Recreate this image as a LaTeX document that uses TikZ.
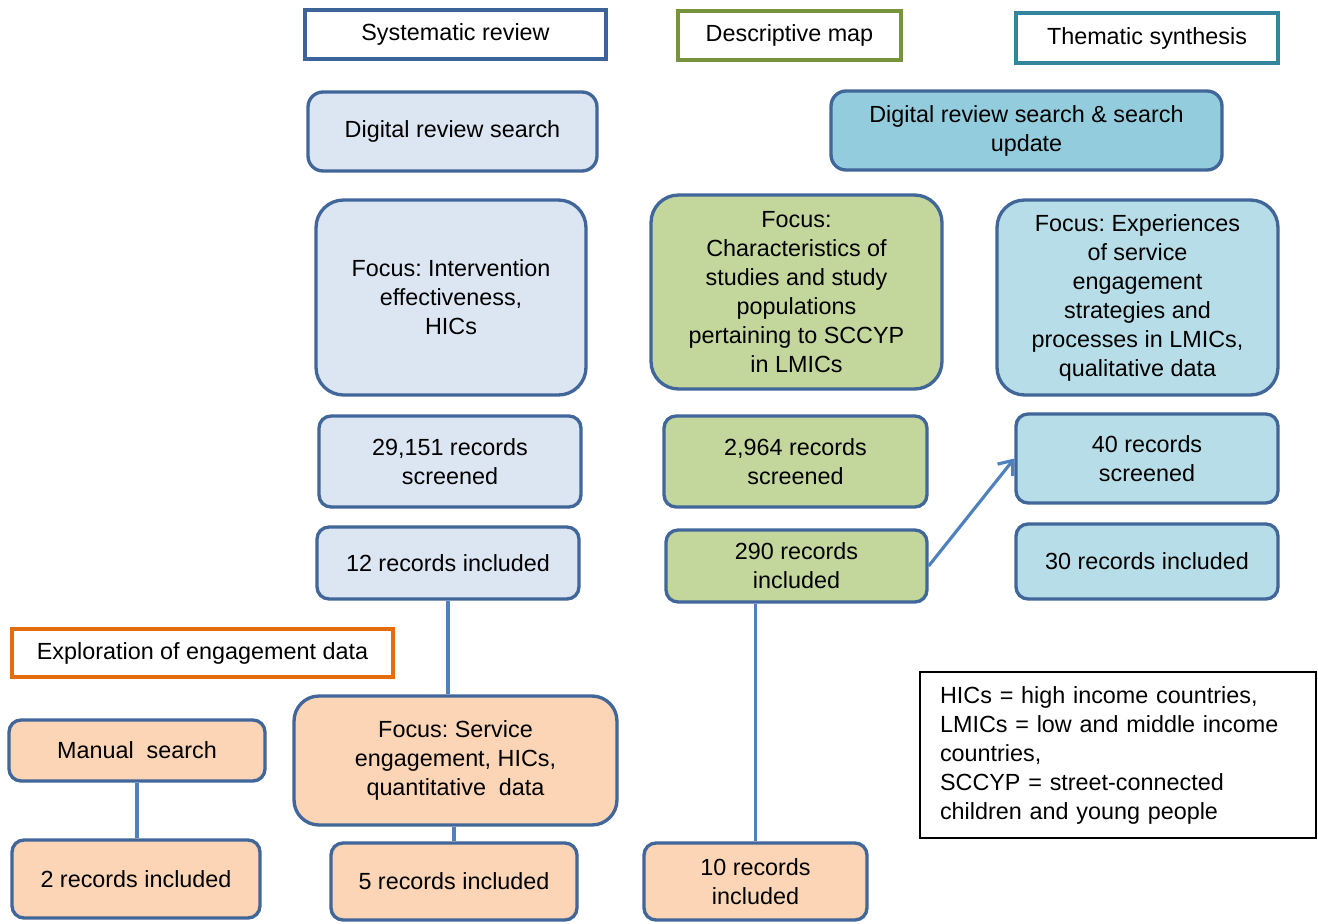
\documentclass[tikz,border=0pt]{standalone}
\usepackage{fontspec}
\setmainfont{Liberation Sans}
\usetikzlibrary{arrows.meta}
\definecolor{hdrblue}{HTML}{3C6499}
\definecolor{hdrgreen}{HTML}{77933C}
\definecolor{hdrteal}{HTML}{31859C}
\definecolor{hdrorange}{HTML}{E46C0A}
\definecolor{bord}{HTML}{41669A}
\definecolor{fblue}{HTML}{DCE6F2}
\definecolor{fgreen}{HTML}{C3D69B}
\definecolor{fteal}{HTML}{B7DEE8}
\definecolor{ftealdk}{HTML}{93CDDD}
\definecolor{forange}{HTML}{FBD5B5}
\definecolor{conn}{HTML}{4F81BD}
\begin{document}
\frenchspacing
\begin{tikzpicture}[x=0.02cm,y=-0.02cm,
  font=\fontsize{13.3pt}{16.5pt}\selectfont\frenchspacing,
  hdr/.style={draw=#1, line width=2pt, fill=white, inner sep=0pt, align=center},
  rbox/.style={draw=bord, line width=1.9pt, fill=#1, rounded corners=0.24cm, inner sep=0pt, align=center},
  bigbox/.style={rbox=#1, rounded corners=0.55cm},
  link/.style={draw=conn, line width=1.8pt},
  legbox/.style={draw=black, line width=1.5pt, fill=white, inner xsep=0.4cm, inner ysep=0pt, align=left}
]
\useasboundingbox (0,0) rectangle (1318,923);
% headers
\node[hdr=hdrblue, minimum width=6.02cm, minimum height=0.98cm] (sys) at (455.5,34.5) {Systematic review};
\node[hdr=hdrgreen, minimum width=4.46cm, minimum height=0.98cm] (desc) at (789.5,35.5) {Descriptive map};
\node[hdr=hdrteal, minimum width=5.24cm, minimum height=1.0cm] (them) at (1147,38) {Thematic synthesis};
\node[hdr=hdrorange, minimum width=7.62cm, minimum height=0.96cm] (expl) at (202.5,653) {Exploration of engagement data};
% searches
\node[rbox=fblue, rounded corners=0.3cm, minimum width=5.78cm, minimum height=1.58cm] (drs) at (452.5,131.5) {Digital review search};
\node[rbox=ftealdk, rounded corners=0.3cm, minimum width=7.82cm, minimum height=1.58cm] (drsu) at (1026.5,130.5) {Digital review search \& search\\update};
% focus boxes
\node[bigbox=fblue, minimum width=5.4cm, minimum height=3.9cm] (f1) at (451,297.5) {Focus: Intervention\\effectiveness,\\HICs};
\node[bigbox=fgreen, minimum width=5.82cm, minimum height=3.88cm] (f2) at (796.5,292) {Focus:\\Characteristics of\\studies and study\\populations\\pertaining to SCCYP\\in LMICs};
\node[bigbox=fteal, minimum width=5.62cm, minimum height=3.9cm] (f3) at (1137.5,297.5) {Focus: Experiences\\of service\\engagement\\strategies and\\processes in LMICs,\\qualitative data};
% screened
\node[rbox=fblue, minimum width=5.24cm, minimum height=1.82cm] (s1) at (450,461.5) {29,151 records\\screened};
\node[rbox=fgreen, minimum width=5.26cm, minimum height=1.82cm] (s2) at (795.5,461.5) {2,964 records\\screened};
\node[rbox=fteal, minimum width=5.24cm, minimum height=1.78cm] (s3) at (1147,458.5) {40 records\\screened};
% included
\node[rbox=fblue, minimum width=5.24cm, minimum height=1.44cm] (i1) at (448,563) {12 records included};
\node[rbox=fgreen, minimum width=5.22cm, minimum height=1.44cm] (i2) at (796.5,566) {290 records\\included};
\node[rbox=fteal, minimum width=5.24cm, minimum height=1.5cm] (i3) at (1147,561.5) {30 records included};
% exploration
\node[rbox=forange, minimum width=5.12cm, minimum height=1.22cm] (man) at (137,750.5) {Manual\ \ search};
\node[bigbox=forange, rounded corners=0.5cm, minimum width=6.46cm, minimum height=2.58cm] (svc) at (455.5,760.5) {Focus: Service\\engagement, HICs,\\quantitative\ \ data};
\node[rbox=forange, minimum width=4.96cm, minimum height=1.56cm] (r2) at (136,879) {2 records included};
\node[rbox=forange, minimum width=4.92cm, minimum height=1.54cm] (r5) at (454,881.5) {5 records included};
\node[rbox=forange, minimum width=4.46cm, minimum height=1.54cm] (r10) at (755.5,881.5) {10 records\\included};
% legend
\node[legbox, minimum width=7.92cm, minimum height=3.32cm, text width=7.12cm] (leg) at (1118,755) {HICs = high income countries,\\LMICs = low and middle income\\countries,\\SCCYP = street-connected\\children and young people};
% connectors
\draw[link] (i1.south) -- (i1.south |- svc.north);
\draw[link] (man.south) -- (man.south |- r2.north);
\draw[link] (r5.north |- svc.south) -- (r5.north);
\draw[link] (r10.north |- i2.south) -- (r10.north);
\draw[link, -{Straight Barb[length=7pt, width=11pt, line width=1.8pt]}] (i2.east) -- (s3.west);
\end{tikzpicture}
\end{document}
